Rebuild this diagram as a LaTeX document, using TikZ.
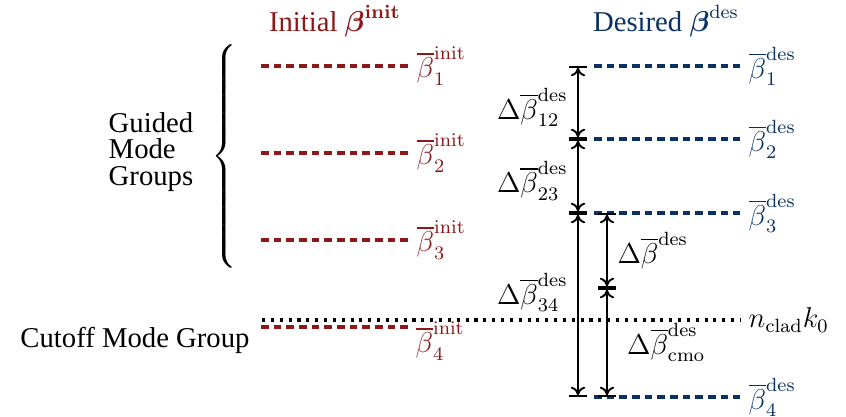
\documentclass[tikz,border=0pt,12pt]{standalone}
\usepackage{amsmath,amssymb}
\usepackage[no-math]{fontspec}
\setmainfont{Liberation Serif}
\usepackage{tikz}
\usetikzlibrary{arrows.meta, positioning, calc}
\definecolor{initred}{RGB}{140,24,26}
\definecolor{desblue}{RGB}{10,48,100}
\newcommand{\bbar}[2]{\overline{\beta}^{\mathrm{#1}}_{\mathrm{#2}}}

\begin{document}
\begin{tikzpicture}[
    x=0.0147cm, y=-0.0147cm,
    initlevel/.style={draw=initred, line width=1.3pt, dash pattern=on 3.2pt off 2.1pt},
    deslevel/.style={draw=desblue, line width=1.3pt, dash pattern=on 3.2pt off 2.1pt},
    cutlevel/.style={draw=black, line width=1.3pt, dash pattern=on 1.3pt off 2.4pt},
    gap/.style={line width=0.8pt, {Bar[width=7.5pt]To[length=3.5pt,width=6pt]}-{To[length=3.5pt,width=6pt]Bar[width=7.5pt]}},
    lbl/.style={anchor=west, inner sep=3pt},
]
  \useasboundingbox (0,0) rectangle (846,417);

  % titles
  \node[text=initred] (tinit) at (335,21) {Initial $\boldsymbol{\beta}^{\mathbf{init}}$};
  \node[text=desblue] (tdes) at (666,21) {Desired $\boldsymbol{\beta}^{\mathrm{des}}$};

  % group labels
  \node[font=\fontsize{12}{11}\selectfont, align=left] (guided) at (151,152) {Guided\\Mode\\Groups};
  \node[inner sep=0pt] (brace) at (226,157) {$\left\{\rule[-1.55cm]{0pt}{3.1cm}\right.$};
  \node (cutoff) at (135,340) {Cutoff Mode Group};

  % cutoff level
  \draw[cutlevel] (262,320) -- (740,320) node[lbl] (nclad) {$n_{\mathrm{clad}}k_0$};

  % initial levels
  \foreach \y/\k in {66/1, 153/2, 240/3}{
    \draw[initlevel] (261,\y) -- (408,\y) node[lbl, text=initred] (ini\k) {$\bbar{init}{\k}$};
  }
  \draw[initlevel] (261,327) -- (408,327);
  \node[lbl, text=initred] (ini4) at (408,341) {$\bbar{init}{4}$};

  % desired levels
  \foreach \y/\k in {66/1, 139/2, 213/3, 397/4}{
    \draw[deslevel] (594,\y) -- (740,\y) node[lbl, text=desblue] (des\k) {$\bbar{des}{\k}$};
  }

  % spacings
  \coordinate (a1) at (578,66);
  \coordinate (a2) at (578,139);
  \coordinate (a3) at (578,213);
  \coordinate (a4) at (578,397);
  \coordinate (b3) at (607,213);
  \coordinate (bm) at (607,288);
  \coordinate (b4) at (607,397);

  \draw[gap] (a1) -- node[left, yshift=-2pt] {$\Delta\bbar{des}{12}$} (a2);
  \draw[gap] (a2) -- node[left, yshift=-2pt] {$\Delta\bbar{des}{23}$} (a3);
  \draw[gap] (a3) -- node[left, pos=0.43] {$\Delta\bbar{des}{34}$} (a4);
  \draw[gap] (b3) -- node[right] {$\Delta\overline{\beta}^{\mathrm{des}}$} (bm);
  \draw[gap] (bm) -- node[right, xshift=4pt] {$\Delta\bbar{des}{cmo}$} (b4);
\end{tikzpicture}
\end{document}
